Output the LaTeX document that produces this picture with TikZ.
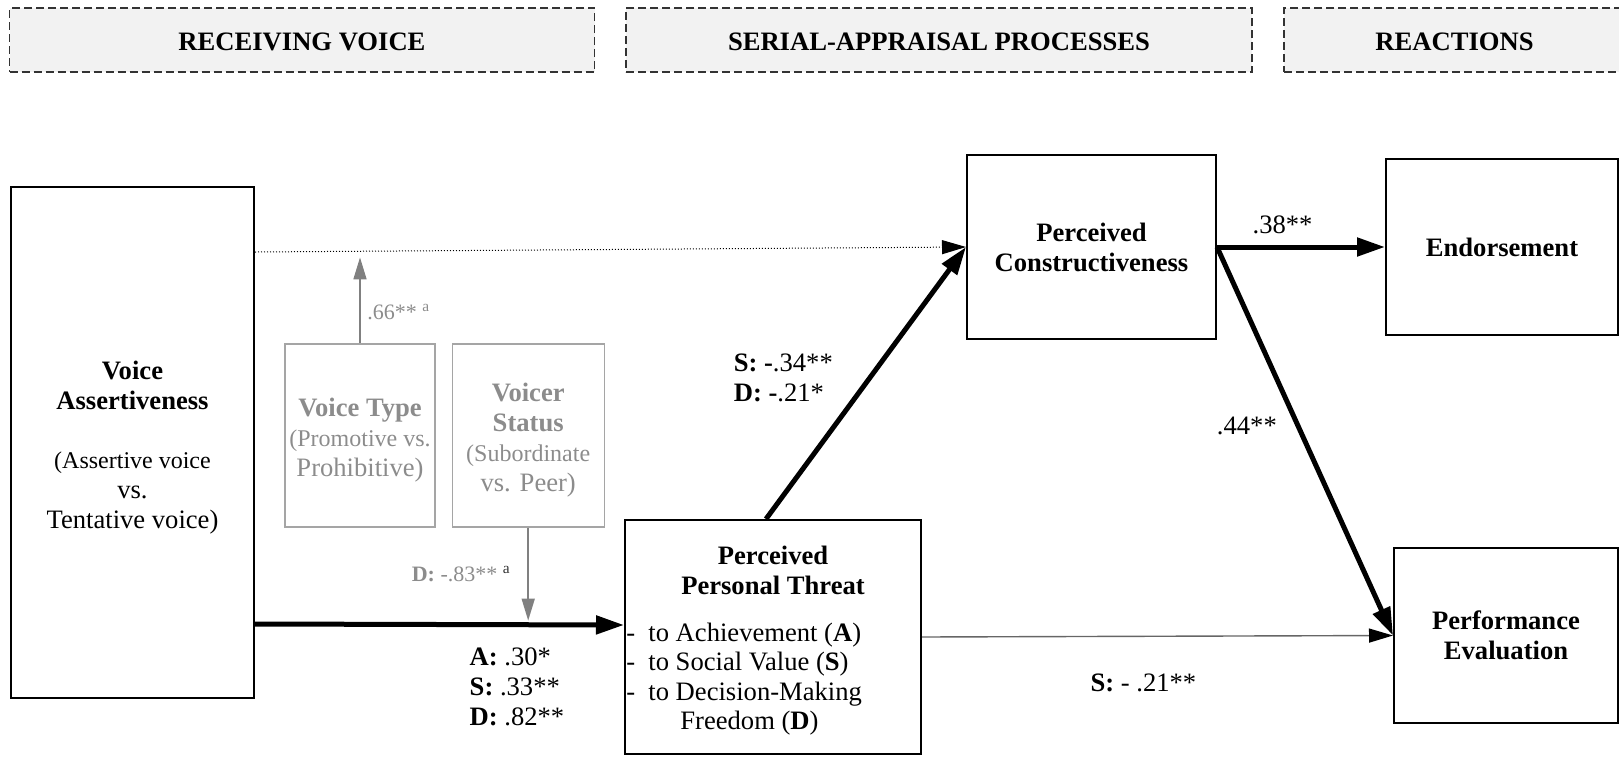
\documentclass[tikz,border=0pt]{standalone}
\usepackage{fontspec}
\setmainfont{Liberation Serif}
\usetikzlibrary{arrows.meta,positioning,calc}
\definecolor{headfill}{RGB}{242,242,242}
\definecolor{muted}{RGB}{140,140,140}
\definecolor{mutedline}{RGB}{165,165,165}
\newcommand{\figfont}{\fontsize{13.3}{15}\selectfont}
\newcommand{\subfont}{\fontsize{12}{14.5}\selectfont}
\newcommand{\notefont}{\fontsize{11}{14}\selectfont}

\begin{document}
\begin{tikzpicture}[
  x=0.5pt, y=-0.5pt,
  font=\figfont,
  head/.style={draw=black!80, dash pattern=on 4pt off 2pt, line width=0.8pt, fill=headfill,
               minimum height=32pt, text height=11pt, font=\figfont\bfseries},
  box/.style={draw, line width=1pt, fill=white, align=center, inner sep=1pt},
  mod/.style={draw=mutedline, line width=0.6pt, text=muted, align=center, inner sep=1pt},
  arrow/.style={-{Triangle[length=14pt, width=9pt]}, line width=2.5pt},
  thinarrow/.style={-{Triangle[length=12pt, width=7pt, color=black]}, line width=0.7pt, draw=black!60},
  dotarrow/.style={-{Triangle[length=12pt, width=7pt]}, line width=0.5pt, densely dotted},
  modarrow/.style={-{Triangle[length=11pt, width=6.5pt]}, line width=0.8pt, draw=black!50}]
  \useasboundingbox (0,0) rectangle (1619,756);
  % headers
  \node[head, minimum width=292.5pt] (h1) at (302,40) {RECEIVING VOICE};
  \node[head, minimum width=313pt] (h2) at (939,40) {SERIAL-APPRAISAL PROCESSES};
  \node[head, minimum width=170.5pt] (h3) at (1454.5,40) {REACTIONS};
  \node[box, minimum width=121.5pt, minimum height=255.5pt] (va) at (132.5,442.5)
    {\rule{0pt}{14pt}\textbf{Voice}\\\textbf{Assertiveness}\\[14.5pt]\subfont(Assertive voice\\vs.\\Tentative voice)};
  \node[mod, minimum width=75pt, minimum height=91.5pt] (vt) at (360,435.5)
    {\rule{0pt}{14pt}\textbf{Voice Type}\\\subfont(Promotive vs.\\Prohibitive)};
  \node[mod, minimum width=76pt, minimum height=91.5pt, right=8pt of vt] (vs)
    {\rule{0pt}{14pt}\textbf{Voicer}\\\textbf{Status}\\\subfont(Subordinate\\vs. Peer)};
  \node[box, minimum width=148pt, minimum height=117pt] (ppt) at (773,637) {};
  \node[align=center, font=\figfont\bfseries] (ppttitle) at ($(ppt.north)+(0,51)$) {Perceived\\Personal Threat};
  \node[align=left, anchor=west, inner sep=0pt, font=\fontsize{13.3}{14.8}\selectfont] (pptlist)
    at ($(ppt.north west)+(2,160)$)
    {\makebox[11pt][l]{-}to Achievement (\textbf{A})\\
     \makebox[11pt][l]{-}to Social Value (\textbf{S})\\
     \makebox[11pt][l]{-}to Decision-Making\\
     \hspace*{27pt}Freedom (\textbf{D})};
  \node[box, minimum width=124.5pt, minimum height=92pt] (pc) at (1091.5,247)
    {\textbf{Perceived}\\\textbf{Constructiveness}};
  \node[box, minimum width=116pt, minimum height=88pt] (endo) at (1502,247) {\textbf{Endorsement}};
  \node[box, minimum width=112pt, minimum height=87.5pt] (perf) at (1506,635.5)
    {\textbf{Performance}\\\textbf{Evaluation}};
  % moderators
  \coordinate (vtup) at ($(vt.north)+(0,-86)$);
  \coordinate (vsdown) at ($(vs.south)+(0,93)$);
  \draw[dotarrow] ($(va.north east)+(0,66)$) -- (pc.west);
  \draw[modarrow] (vt.north) -- (vtup)
    node[pos=0.36, right=0pt, text=muted, font=\notefont] {.66** \textsuperscript{a}};
  \draw[modarrow] (vs.south) -- (vsdown)
    node[pos=0.5, left=5pt, text=muted, font=\notefont] {\textbf{D:} -.83** \textsuperscript{\color{black!80}a}};
  % paths
  \draw[arrow] ($(va.south east)+(0,-75)$) -- ($(ppt.north west)+(0,106)$)
    node[pos=0.71, below=7pt, align=left] {\textbf{A:} .30*\\\textbf{S:} .33**\\\textbf{D:} .82**};
  \draw[arrow] ($(ppt.north)+(-7,0)$) -- (pc.west)
    node[pos=0.52, left=14pt, align=left] {\textbf{S: -}.34**\\\textbf{D: -}.21*};
  \draw[arrow] (pc.east) -- (endo.west) node[pos=0.39, above=2pt] {.38**};
  \draw[arrow] (pc.east) -- (perf.west) node[pos=0.46, left=6pt] {.44**};
  \draw[thinarrow] (ppt.east) -- (perf.west) node[pos=0.47, below=15pt] {\textbf{S:} - .21**};
\end{tikzpicture}
\end{document}
